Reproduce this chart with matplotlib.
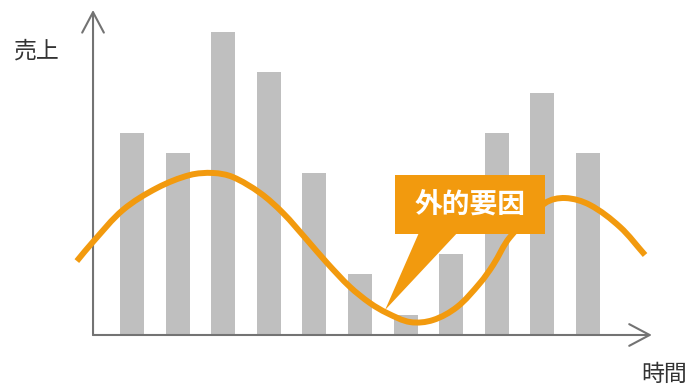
import numpy as np
import matplotlib
matplotlib.use('Agg')
import matplotlib.pyplot as plt
from matplotlib.path import Path
from matplotlib.patches import PathPatch, Rectangle, Polygon, FancyArrowPatch

plt.rcParams['font.family'] = ['Noto Sans CJK JP', 'DejaVu Sans']

# Données (売上 par période)
periods = np.arange(11)
sales = [10, 9, 15, 13, 8, 3, 1, 4, 10, 12, 9]

# Courbe (facteur externe)
curve_x = [-1.21, -0.86, -0.20, 0.55, 1.27, 1.78, 2.21, 2.81, 3.31, 3.84, 4.28, 4.78,
           5.22, 5.59, 6.10, 6.60, 7.13, 7.63, 7.92, 8.29, 9.06, 9.50, 10.04, 10.70, 11.25]
curve_y = [3.66, 4.60, 6.19, 7.28, 7.92, 8.02, 7.82, 7.03, 6.04, 4.70, 3.56, 2.38,
           1.58, 1.09, 0.64, 0.74, 1.39, 2.57, 3.47, 4.85, 6.53, 6.78, 6.44, 5.35, 3.96]

label_y = '売上'
label_x = '時間'
callout_text = '外的要因'

orange = '#f29a0e'
bar_color = '#bfbfbf'
axis_color = '#737373'

fig = plt.figure(figsize=(6.92, 3.84), dpi=100)
ax = fig.add_axes([0, 0, 1, 1])
ax.set_xlim(-2.895, 12.28)
ax.set_ylim(-2.426, 16.584)
ax.axis('off')

# Barres
ax.bar(periods, sales, width=0.526, color=bar_color, zorder=1)

# Courbe lissée : tangentes calculées en pixels, segments de Bézier
pts = ax.transData.transform(np.column_stack([curve_x, curve_y]))
n = len(pts)
tang = np.zeros_like(pts)
for i in range(n):
    a = pts[max(i - 1, 0)]
    b = pts[min(i + 1, n - 1)]
    d = b - a
    tang[i] = d / np.hypot(*d)
verts = [pts[0]]
codes = [Path.MOVETO]
for i in range(n - 1):
    L = np.hypot(*(pts[i + 1] - pts[i])) / 3
    verts += [pts[i] + tang[i] * L, pts[i + 1] - tang[i + 1] * L, pts[i + 1]]
    codes += [Path.CURVE4] * 3
verts = ax.transData.inverted().transform(np.array(verts))
ax.add_patch(PathPatch(Path(verts, codes), facecolor='none', edgecolor=orange,
                       lw=4.3, capstyle='butt', zorder=3))

# Axes avec flèches
x0, y0 = -0.855, 0
ax.add_patch(FancyArrowPatch((x0, y0), (x0, 16.09), arrowstyle='->,head_length=1.47,head_width=0.78',
                             mutation_scale=10, color=axis_color, lw=1.5, shrinkA=0, shrinkB=0, zorder=2))
ax.add_patch(FancyArrowPatch((x0, y0), (11.40, y0), arrowstyle='->,head_length=1.47,head_width=0.78',
                             mutation_scale=10, color=axis_color, lw=1.5, shrinkA=0, shrinkB=0, zorder=2))

# Bulle
bx0, bx1, by0, by1 = 5.77, 9.06, 5.0, 7.92
ax.add_patch(Rectangle((bx0, by0), bx1 - bx0, by1 - by0, facecolor=orange, edgecolor='none', zorder=4))
ax.add_patch(Polygon([(6.29, by0 + 0.05), (7.13, by0 + 0.05), (5.55, 1.24)], closed=True,
                     facecolor=orange, edgecolor='none', zorder=4))
ax.text((bx0 + bx1) / 2, (by0 + by1) / 2, callout_text, color='white', fontsize=20,
        fontweight='bold', ha='center', va='center', zorder=5)

# Libellés
ax.text(-2.09, 14.06, label_y, fontsize=16.5, color='#333333', ha='center', va='center')
ax.text(11.67, -1.93, label_x, fontsize=16.5, color='#333333', ha='center', va='center')

plt.savefig('out.png', dpi=100)
